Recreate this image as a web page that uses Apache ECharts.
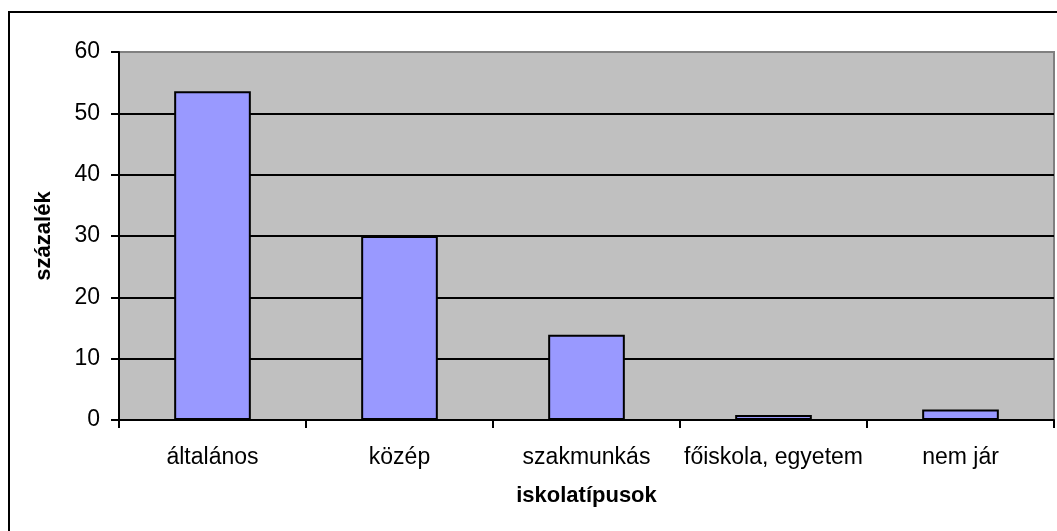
<!DOCTYPE html>
<html>
<head>
<meta charset="utf-8">
<script src="https://cdn.jsdelivr.net/npm/echarts@6/dist/echarts.min.js"></script>
<style>
  html, body { margin: 0; padding: 0; background: #ffffff; }
  #chart { width: 1057px; height: 531px; }
</style>
</head>
<body>
<div id="chart"></div>
<script>
// School types and the share (%) for each
const categories = ['általános', 'közép', 'szakmunkás', 'főiskola, egyetem', 'nem jár'];
const values = [53.6, 30.0, 13.9, 0.8, 1.7];
const xAxisTitle = 'iskolatípusok';
const yAxisTitle = 'százalék';

const FONT = '"Liberation Sans", Arial, sans-serif';

const chart = echarts.init(document.getElementById('chart'), null, { renderer: 'canvas' });

chart.setOption({
  animation: false,
  backgroundColor: '#ffffff',
  graphic: [{
    type: 'rect',
    shape: { x: 9, y: 12, width: 1060, height: 530 },
    style: { fill: 'none', stroke: '#000000', lineWidth: 2 },
    silent: true,
    z: 100
  }],
  grid: {
    left: 119, top: 52, right: 3, bottom: 111,
    show: true,
    backgroundColor: '#c0c0c0',
    borderColor: '#808080',
    borderWidth: 2
  },
  xAxis: {
    type: 'category',
    data: categories,
    boundaryGap: true,
    name: xAxisTitle,
    nameLocation: 'middle',
    nameGap: 65,
    nameTextStyle: { fontFamily: FONT, fontSize: 22, fontWeight: 'bold', color: '#000' },
    axisLine: { show: true, lineStyle: { color: '#000', width: 2 } },
    axisTick: { show: true, length: 8, interval: 0, alignWithLabel: false, lineStyle: { color: '#000', width: 2 } },
    axisLabel: { interval: 0, margin: 26, fontFamily: FONT, fontSize: 23, color: '#000' },
    splitLine: { show: false }
  },
  yAxis: {
    type: 'value',
    min: 0, max: 60, interval: 10,
    name: yAxisTitle,
    nameLocation: 'middle',
    nameRotate: 90,
    nameGap: 64,
    nameTextStyle: { fontFamily: FONT, fontSize: 22, fontWeight: 'bold', color: '#000' },
    axisLine: { show: true, lineStyle: { color: '#000', width: 2 } },
    axisTick: { show: true, length: 8, lineStyle: { color: '#000', width: 2 } },
    axisLabel: { margin: 19, fontFamily: FONT, fontSize: 23, color: '#000' },
    splitLine: {
      show: true,
      lineStyle: { color: ['#000', '#000', '#000', '#000', '#000', '#000', '#808080'], width: 2 }
    }
  },
  series: [{
    type: 'bar',
    data: values,
    barWidth: '41%',
    itemStyle: { color: '#9999ff', borderColor: '#000', borderWidth: 2 },
    label: { show: false }
  }]
});
</script>
</body>
</html>
